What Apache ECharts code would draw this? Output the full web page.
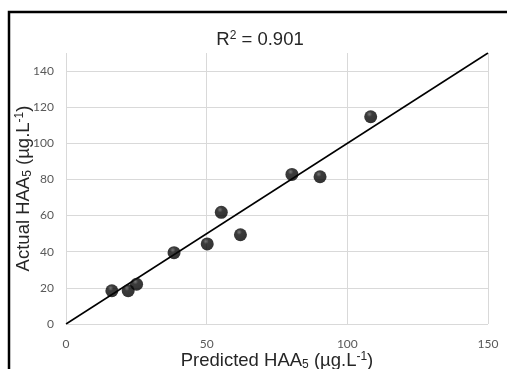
<!DOCTYPE html>
<html>
<head>
<meta charset="utf-8">
<script src="https://cdn.jsdelivr.net/npm/echarts@6/dist/echarts.min.js"></script>
<style>
  html, body { margin: 0; padding: 0; background: #fff; }
  #chart { width: 507px; height: 369px; }
</style>
</head>
<body>
<div id="chart"></div>
<script>
// predicted vs actual HAA5 (µg/L)
const predicted = [16.3, 22.1, 25.1, 38.4, 50.2, 55.2, 62.0, 80.3, 90.3, 108.3]
const actual = [18.4, 18.4, 22.0, 39.5, 44.3, 61.8, 49.4, 82.8, 81.5, 114.7]
const fitLine = [[0, 0], [150, 150]] // 1:1 line
const xTicks = [0, 50, 100, 150]
const yTicks = [0, 20, 40, 60, 80, 100, 120, 140]

const chart = echarts.init(document.getElementById('chart'))

const points = predicted.map((p, i) => [p, actual[i]])

const nameStyle = {
  fontFamily: 'Liberation Sans',
  fontSize: 18.5,
  color: '#262626',
  lineHeight: 20,
  rich: {
    sub: { fontSize: 12, verticalAlign: 'bottom', lineHeight: 15, fontFamily: 'Liberation Sans', color: '#262626' },
    sup: { fontSize: 12, verticalAlign: 'top', lineHeight: 20, fontFamily: 'Liberation Sans', color: '#262626' }
  }
}

chart.setOption({
  animation: false,
  title: {
    text: 'R{sup|2} = 0.901',
    left: 255,
    top: 25,
    textAlign: 'center',
    textStyle: {
      fontFamily: 'Liberation Sans',
      fontSize: 18.5,
      fontWeight: 'normal',
      color: '#262626',
      lineHeight: 20,
      rich: {
        sup: { fontSize: 12, verticalAlign: 'top', lineHeight: 20, color: '#262626', fontFamily: 'Liberation Sans' }
      }
    }
  },
  graphic: [{
    type: 'rect',
    shape: { x: 9, y: 12, width: 520, height: 380 },
    style: { fill: 'none', stroke: '#000', lineWidth: 2.5 },
    silent: true
  }],
  grid: {
    left: 66,
    right: 19,
    top: 53,
    bottom: 45,
    outerBoundsMode: 'none'
  },
  xAxis: {
    type: 'value',
    min: xTicks[0],
    max: xTicks[xTicks.length - 1],
    interval: 50,
    name: 'Predicted HAA{sub|5} (µg.L{sup|-1})',
    nameLocation: 'middle',
    nameGap: 27,
    nameMoveOverlap: false,
    nameTextStyle: nameStyle,
    axisLine: { show: false },
    axisTick: { show: false },
    axisLabel: {
      margin: 14,
      color: '#595959',
      fontFamily: 'Lato',
      fontSize: 12
    },
    splitLine: {
      show: true,
      lineStyle: { color: '#d9d9d9', width: 1 }
    }
  },
  yAxis: {
    type: 'value',
    min: yTicks[0],
    max: 150,
    interval: 20,
    name: 'Actual HAA{sub|5} (µg.L{sup|-1})',
    nameLocation: 'middle',
    nameGap: 32,
    nameMoveOverlap: false,
    nameTextStyle: nameStyle,
    axisLine: { show: false },
    axisTick: { show: false },
    axisLabel: {
      margin: 12,
      color: '#595959',
      fontFamily: 'Lato',
      fontSize: 12,
      showMaxLabel: false
    },
    splitLine: {
      show: true,
      showMaxLine: false,
      lineStyle: { color: '#d9d9d9', width: 1 }
    }
  },
  series: [{
    name: 'fit',
    type: 'line',
    data: fitLine,
    symbol: 'none',
    z: 2,
    lineStyle: { color: '#000', width: 1.5 }
  }, {
    name: 'samples',
    type: 'scatter',
    data: points,
    symbolSize: 13,
    z: 3,
    itemStyle: {
      color: {
        type: 'radial',
        x: 0.4,
        y: 0.3,
        r: 0.7,
        colorStops: [
          { offset: 0, color: '#555' },
          { offset: 0.3, color: '#0a0a0a' },
          { offset: 1, color: '#000' }
        ]
      }
    }
  }]
})
</script>
</body>
</html>
